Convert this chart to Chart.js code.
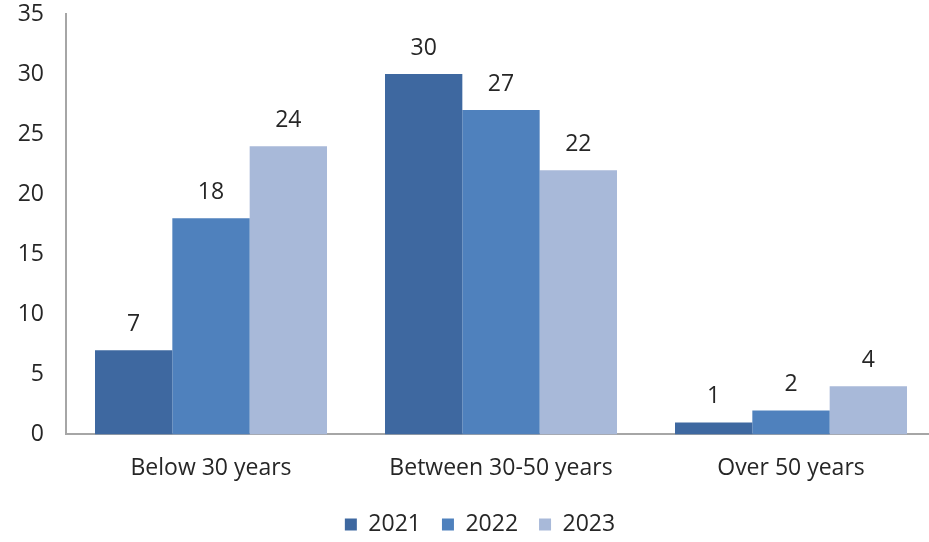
<!DOCTYPE html>
<html>
<head>
<meta charset="utf-8">
<script src="https://cdn.jsdelivr.net/npm/chart.js@4/dist/chart.umd.min.js"></script>
<style>
html,body{margin:0;padding:0;background:#fff;overflow:hidden;}
#wrap{width:936px;height:542px;position:relative;}
</style>
</head>
<body>
<div id="wrap"><canvas id="c" width="936" height="542"></canvas></div>
<script>
const categories = ["Below 30 years", "Between 30-50 years", "Over 50 years"];
const seriesNames = ["2021", "2022", "2023"];
const values2021 = [7, 30, 1];
const values2022 = [18, 27, 2];
const values2023 = [24, 22, 4];
const yTicks = [0, 5, 10, 15, 20, 25, 30, 35];

const colors = ["#3E68A0", "#4F81BD", "#A8B9D9"];
const FONT = "'Open Sans', sans-serif";
const FS = 23;

const labelPlugin = {
  id: "barLabels",
  afterLayout(chart) {
    if (chart.legend) { chart.legend.left += 24; }
  },
  afterDatasetsDraw(chart) {
    const ctx = chart.ctx;
    ctx.save();
    ctx.font = FS + "px " + FONT;
    ctx.fillStyle = "#262626";
    ctx.textAlign = "center";
    ctx.textBaseline = "middle";
    chart.data.datasets.forEach((ds, i) => {
      const meta = chart.getDatasetMeta(i);
      meta.data.forEach((bar, j) => {
        ctx.fillText(String(ds.data[j]), bar.x, bar.y - 26);
      });
    });
    ctx.restore();
  }
};

new Chart(document.getElementById("c"), {
  type: "bar",
  data: {
    labels: categories,
    datasets: [
      { label: seriesNames[0], data: values2021, backgroundColor: colors[0] },
      { label: seriesNames[1], data: values2022, backgroundColor: colors[1] },
      { label: seriesNames[2], data: values2023, backgroundColor: colors[2] }
    ]
  },
  options: {
    responsive: false,
    animation: false,
    devicePixelRatio: 1,
    layout: { padding: { top: 0, right: 0, left: 0, bottom: -4 } },
    datasets: { bar: { categoryPercentage: 0.8, barPercentage: 1.0 } },
    scales: {
      x: {
        grid: { display: false, drawTicks: false },
        border: { display: true, color: "#A6A6A6", width: 2 },
        ticks: { color: "#262626", font: { size: FS, family: FONT }, padding: 20 },
        afterFit(axis) { axis.height -= 10; }
      },
      y: {
        min: 0, max: 35,
        afterBuildTicks(axis) { axis.ticks = yTicks.map(v => ({ value: v })); },
        afterFit(axis) { axis.width = 66; axis.paddingTop = 14; axis.paddingBottom = 0; },
        grid: { display: false, drawTicks: false },
        border: { display: true, color: "#A6A6A6", width: 2 },
        ticks: { color: "#262626", font: { size: FS, family: FONT }, padding: 22 }
      }
    },
    plugins: {
      legend: {
        position: "bottom",
        labels: {
          color: "#262626",
          font: { size: FS, family: FONT },
          boxWidth: 12, boxHeight: 12,
          padding: 21
        }
      },
      tooltip: { enabled: false }
    }
  },
  plugins: [labelPlugin]
});
</script>
</body>
</html>
